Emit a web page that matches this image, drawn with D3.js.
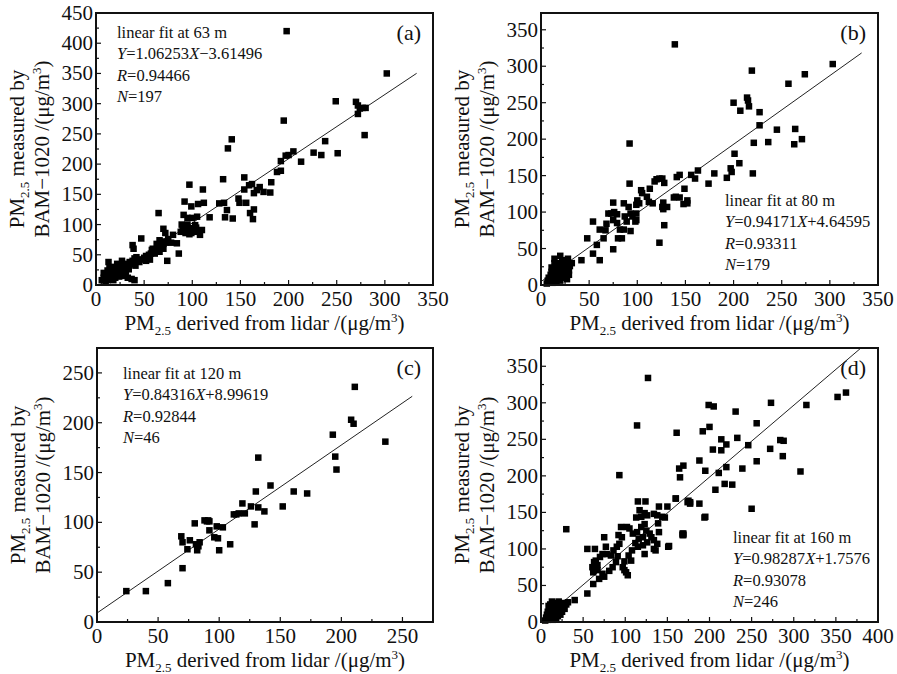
<!DOCTYPE html>
<html>
<head>
<meta charset="utf-8">
<script src="https://cdn.jsdelivr.net/npm/d3@7"></script>
<style>
  body { margin: 0; background: #fff; }
</style>
</head>
<body>
<script>
// measured points [lidar, BAM-1020] per height
const pointsA = [
  [198,420],[302,350],[249,304],[270,303],[272,297],[274,292],[277,293],[280,293],[272,283],[279,248],
  [195,272],[238,238],[226,219],[234,215],[251,218],[205,221],[213,204],[197,214],[200,215],[192,205],[192,189],[188,187],
  [182,170],[181,153],[174,154],[170,162],[167,157],[164,152],[162,167],[159,165],
  [141,241],[137,226],[132,175],[154,178],[154,158],[156,136],[160,119],[164,125],[163,109],
  [148,143],[149,136],[133,136],[128,135],[136,124],[134,112],[142,110],[118,112],[111,158],[112,136],[106,134],
  [99,130],[97,166],[92,138],[91,116],[105,113],[100,111],[95,111],[108,83],
  [88,88],[90,94],[92,92],[94,96],[96,90],[98,94],[100,92],[102,88],[104,95],[106,90],[93,86],[95,100],
  [99,86],[91,98],[103,99],[110,91],[97,84],[89,100],
  [65,119],[70,93],[72,86],[80,83],[84,69],[86,52],[74,40],[47,77],[38,66],[39,60],[37,10],[40,8],[13,38],
  [50,45],[52,48],[55,50],[57,52],[60,55],[62,57],[64,60],[66,62],[68,65],[70,68],[72,70],[74,72],[66,74],
  [68,72],[63,68],[58,58],[61,52],[54,46],[59,60],[70,60],[75,76],[78,70],[66,55],[56,42],[48,42],[45,38],[43,40],[52,40],
  [6,8],[8,12],[9,15],[10,10],[11,18],[12,14],[13,20],[14,12],[15,22],[16,16],[17,25],[18,20],[19,14],[20,22],
  [21,28],[22,18],[23,15],[24,25],[25,20],[26,30],[27,24],[28,18],[29,32],[30,28],[31,22],[32,35],[33,30],[34,26],
  [35,38],[36,34],[38,40],[39,36],[40,44],[41,32],[42,46],[44,42],[10,5],[12,8],[15,10],[18,8],[20,12],[24,14],
  [14,28],[17,30],[22,35],[27,40],[30,15],[33,12],[8,20],[12,24]
];
const pointsB = [
  [139,330],[303,303],[274,289],[257,276],[219,294],[200,250],[207,239],[214,257],[215,253],[216,245],
  [227,237],[227,219],[245,213],[264,214],[271,200],[263,193],[236,196],[221,195],[220,153],[201,180],
  [206,167],[197,160],[198,155],[193,147],[180,153],[174,139],[163,157],[160,146],[156,151],[141,148],[144,151],
  [140,121],[138,120],[144,120],[149,132],[148,111],[152,116],[152,112],
  [118,142],[120,145],[123,146],[126,146],[128,140],[113,132],[104,130],[105,126],[110,121],[112,114],[116,112],
  [127,113],[126,107],[127,104],[131,107],[128,82],[123,58],[100,116],[102,112],[99,110],[92,139],[92,194],
  [86,112],[91,107],[93,98],[95,94],[99,98],[98,87],[99,89],[75,113],[73,98],[76,100],[79,97],[70,98],
  [75,89],[79,85],[82,76],[86,76],[80,64],[68,84],[67,75],[65,64],[84,64],[87,94],[89,87],[75,49],[93,74],
  [54,87],[61,76],[48,64],[54,43],[58,55],[61,34],[42,34],[32,30],[29,14],[26,34],[20,40],[14,36],
  [6,2],[7,6],[8,10],[9,4],[10,14],[10,8],[11,18],[12,3],[12,12],[13,22],[13,7],[14,16],[15,26],[15,10],
  [16,20],[16,4],[17,14],[17,30],[18,8],[18,24],[19,18],[19,12],[20,28],[20,6],[21,22],[21,15],[22,32],[22,10],
  [23,26],[23,18],[24,34],[24,12],[25,22],[25,28],[26,16],[27,30],[27,8],[28,24],[28,36],[29,20],[30,26],[14,30],[11,24]
];
const pointsC = [
  [24,31],[40,31],[58,39],[70,54],[69,86],[70,80],[74,73],[76,82],[80,99],[81,78],[82,72],[84,80],
  [88,102],[91,102],[92,101],[92,92],[96,85],[99,84],[98,96],[103,95],[100,72],[109,78],[112,108],[116,109],
  [121,109],[119,119],[126,116],[129,98],[130,131],[132,115],[132,165],[137,111],[142,137],[152,116],[161,131],
  [172,129],[193,188],[195,166],[196,153],[208,203],[210,199],[211,236],[236,181],[83,76],[90,101],[114,108]
];
const pointsD = [
  [127,334],[362,314],[352,308],[315,297],[273,300],[199,297],[205,295],[231,288],[256,272],[200,267],
  [192,261],[161,259],[114,269],[214,250],[233,252],[220,243],[214,235],[204,236],[246,242],[272,237],
  [284,249],[288,248],[287,227],[256,220],[188,221],[169,214],[164,210],[165,198],[195,207],[211,204],
  [220,212],[239,210],[308,206],[207,181],[218,189],[227,188],[93,201],[160,169],[175,166],[177,164],
  [188,162],[194,143],[250,155],[168,121],[169,119],[151,103],[30,127],
  [115,165],[124,165],[117,153],[123,149],[126,146],[119,144],[113,143],[140,158],[150,158],[134,148],
  [138,146],[144,144],[147,143],[139,135],[174,164],[177,162],[169,121],[168,119],[195,144],[160,169],
  [95,130],[102,130],[105,128],[109,121],[114,123],[119,130],[123,134],[125,125],[129,121],[131,116],
  [121,116],[116,114],[112,108],[115,103],[121,105],[126,109],[134,112],[140,123],[138,107],[136,98],
  [134,100],[123,93],[108,98],[104,91],[107,84],[99,83],[97,75],[101,68],[103,64],[99,71],[93,107],
  [92,119],[96,116],[90,103],[86,98],[83,91],[75,116],[77,103],[78,93],[73,93],[70,89],[65,84],[63,73],
  [67,71],[73,66],[75,62],[69,59],[81,70],[85,75],[89,82],[91,90],[55,100],[64,100],[152,104],
  [63,82],[61,75],[62,68],[67,78],[55,39],[62,52],[40,30],[32,27],[26,23],
  [5,2],[6,6],[7,10],[8,3],[8,14],[9,7],[10,18],[10,4],[11,11],[11,24],[12,6],[12,15],[13,28],[13,9],
  [14,19],[14,3],[15,12],[15,22],[16,7],[16,16],[17,26],[17,10],[18,20],[18,4],[19,14],[19,24],[20,8],
  [20,18],[21,12],[21,28],[22,16],[22,22],[23,10],[24,20],[25,14],[26,26],[28,18],[30,24],[12,20],[9,22]
];
const slopes = [1.06253, 0.94171, 0.84316, 0.98287];
const intercepts = [-3.61496, 4.64595, 8.99619, 1.7576];
const fitXEnd = [333, 333, 258, 400];
const xMaxes = [350, 350, 275, 400];
const yMaxes = [450, 373, 275, 375];
const panelTags = ["(a)", "(b)", "(c)", "(d)"];
const heights = ["63 m", "80 m", "120 m", "160 m"];
const eqTexts = ["1.06253X\u22123.61496", "0.94171X+4.64595", "0.84316X+8.99619", "0.98287X+1.7576"];
const rTexts = ["0.94466", "0.93311", "0.92844", "0.93078"];
const nTexts = ["197", "179", "46", "246"];

const width = 897, height = 674;
const serif = "'Liberation Serif', 'Times New Roman', Times, 'DejaVu Serif', serif";
const svg = d3.select("body").append("svg")
  .attr("width", width).attr("height", height)
  .attr("font-family", serif)
  .style("font-family", serif);

const layout = [
  { left: 96, top: 13, w: 337, h: 272, noteX: 117, noteY: 38 },
  { left: 541, top: 13, w: 337, h: 272, noteX: 725, noteY: 206 },
  { left: 97, top: 348, w: 336, h: 274, noteX: 123, noteY: 379 },
  { left: 541, top: 348, w: 337, h: 274, noteX: 733, noteY: 543 }
];
const allPoints = [pointsA, pointsB, pointsC, pointsD];

layout.forEach((p, i) => {
  const x = d3.scaleLinear().domain([0, xMaxes[i]]).range([p.left, p.left + p.w]);
  const y = d3.scaleLinear().domain([0, yMaxes[i]]).range([p.top + p.h, p.top]);
  const g = svg.append("g").attr("fill", "#111");

  // clip for the fit line
  g.append("clipPath").attr("id", "clip" + i)
    .append("rect").attr("x", p.left).attr("y", p.top).attr("width", p.w).attr("height", p.h);

  // minor ticks every 25, major every 50
  const xMinor = d3.range(25, xMaxes[i], 50);
  const yMinor = d3.range(25, yMaxes[i], 50);
  const xMajor = d3.range(0, xMaxes[i] + 0.1, 50);
  const yMajor = d3.range(0, yMaxes[i] + 0.1, 50);

  g.selectAll(".xmaj").data(xMajor).enter().append("line")
    .attr("x1", d => x(d)).attr("x2", d => x(d))
    .attr("y1", p.top + p.h).attr("y2", p.top + p.h - 5)
    .attr("stroke", "#111").attr("stroke-width", 1.2);
  g.selectAll(".xmin").data(xMinor).enter().append("line")
    .attr("x1", d => x(d)).attr("x2", d => x(d))
    .attr("y1", p.top + p.h).attr("y2", p.top + p.h - 3)
    .attr("stroke", "#111").attr("stroke-width", 1.2);
  g.selectAll(".ymaj").data(yMajor).enter().append("line")
    .attr("y1", d => y(d)).attr("y2", d => y(d))
    .attr("x1", p.left).attr("x2", p.left + 5)
    .attr("stroke", "#111").attr("stroke-width", 1.2);
  g.selectAll(".ymin").data(yMinor).enter().append("line")
    .attr("y1", d => y(d)).attr("y2", d => y(d))
    .attr("x1", p.left).attr("x2", p.left + 3)
    .attr("stroke", "#111").attr("stroke-width", 1.2);

  // tick labels
  g.selectAll(".xl").data(xMajor).enter().append("text")
    .attr("x", d => x(d)).attr("y", p.top + p.h + 21)
    .attr("text-anchor", "middle").attr("font-size", 21).text(d => d);
  g.selectAll(".yl").data(yMajor).enter().append("text")
    .attr("x", p.left - 3).attr("y", d => y(d) + 7)
    .attr("text-anchor", "end").attr("font-size", 21).text(d => d);

  // fit line
  const x0 = Math.max(0, -intercepts[i] / slopes[i]);
  g.append("line")
    .attr("clip-path", "url(#clip" + i + ")")
    .attr("x1", x(x0)).attr("y1", y(slopes[i] * x0 + intercepts[i]))
    .attr("x2", x(fitXEnd[i])).attr("y2", y(slopes[i] * fitXEnd[i] + intercepts[i]))
    .attr("stroke", "#222").attr("stroke-width", 1);

  // points
  const s = 6.5;
  g.selectAll(".pt").data(allPoints[i]).enter().append("rect")
    .attr("x", d => x(d[0]) - s / 2).attr("y", d => y(d[1]) - s / 2)
    .attr("width", s).attr("height", s).attr("fill", "#000");

  // frame
  g.append("rect").attr("x", p.left).attr("y", p.top).attr("width", p.w).attr("height", p.h)
    .attr("fill", "none").attr("stroke", "#111").attr("stroke-width", 2);

  // panel tag
  g.append("text").attr("x", p.left + p.w - 12).attr("y", p.top + 27)
    .attr("text-anchor", "end").attr("font-size", 22).text(panelTags[i]);

  // annotation
  const fs = 16.5, lh = 21.3;
  const note = g.append("g").attr("font-size", fs);
  note.append("text").attr("x", p.noteX).attr("y", p.noteY).text("linear fit at " + heights[i]);
  const t2 = note.append("text").attr("x", p.noteX).attr("y", p.noteY + lh);
  t2.append("tspan").attr("font-style", "italic").text("Y");
  const eq = eqTexts[i].split("X");
  t2.append("tspan").text("=" + eq[0]);
  t2.append("tspan").attr("font-style", "italic").text("X");
  t2.append("tspan").text(eq[1]);
  const t3 = note.append("text").attr("x", p.noteX).attr("y", p.noteY + 2 * lh);
  t3.append("tspan").attr("font-style", "italic").text("R");
  t3.append("tspan").text("=" + rTexts[i]);
  const t4 = note.append("text").attr("x", p.noteX).attr("y", p.noteY + 3 * lh);
  t4.append("tspan").attr("font-style", "italic").text("N");
  t4.append("tspan").text("=" + nTexts[i]);

  // x axis title
  const xt = g.append("text").attr("x", p.left + p.w / 2).attr("y", p.top + p.h + 45)
    .attr("text-anchor", "middle").attr("font-size", 21);
  xt.append("tspan").text("PM");
  xt.append("tspan").attr("font-size", 13).attr("dy", 5).text("2.5");
  xt.append("tspan").attr("dy", -5).text(" derived from lidar /(\u03bcg/m");
  xt.append("tspan").attr("font-size", 13).attr("dy", -8).text("3");
  xt.append("tspan").attr("dy", 8).text(")");

  // y axis title (two lines)
  const cy = p.top + p.h / 2;
  const y1 = g.append("text").attr("transform", `translate(${p.left - 72},${cy}) rotate(-90)`)
    .attr("text-anchor", "middle").attr("font-size", 21);
  y1.append("tspan").text("PM");
  y1.append("tspan").attr("font-size", 13).attr("dy", 5).text("2.5");
  y1.append("tspan").attr("dy", -5).text(" measured by");
  const y2 = g.append("text").attr("transform", `translate(${p.left - 47},${cy}) rotate(-90)`)
    .attr("text-anchor", "middle").attr("font-size", 21);
  y2.append("tspan").text("BAM\u22121020 /(\u03bcg/m");
  y2.append("tspan").attr("font-size", 13).attr("dy", -8).text("3");
  y2.append("tspan").attr("dy", 8).text(")");
});
</script>
</body>
</html>
